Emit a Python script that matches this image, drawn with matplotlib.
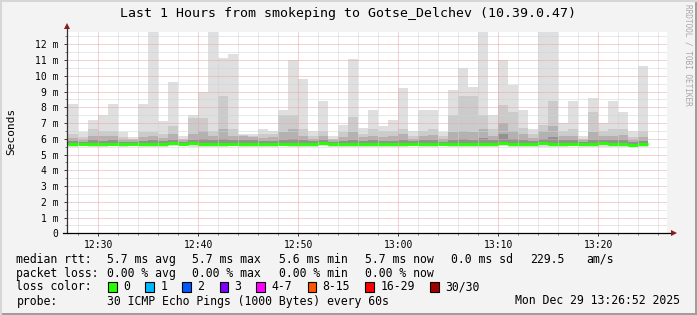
import matplotlib
matplotlib.use('Agg')
import matplotlib.pyplot as plt
from matplotlib.patches import Rectangle
from matplotlib.lines import Line2D
import numpy as np

W, H, DPI = 697, 315, 100

# ---------------- data ----------------
title = "Last 1 Hours from smokeping to Gotse_Delchev (10.39.0.47)"
first_bar_minute = 27          # 12:27, minutes after 12:00
n_bars = 58                    # one bar per minute (60 s step)
x_view = (26.867, 86.867)      # 12:26:52 .. 13:26:52
x_tick_pos = [30, 40, 50, 60, 70, 80]
x_tick_labels = ["12:30", "12:40", "12:50", "13:00", "13:10", "13:20"]
y_tick_pos = list(range(0, 13))
y_tick_labels = ["0"] + [f"{v} m" for v in range(1, 13)]
y_top = 12.78

# ping smoke (ms): outer band (min..max) and inner shaded bands
rtt_max = [8.2, 6.45, 7.2, 7.5, 8.2, 6.4, 6.1, 8.2, 14.0, 7.1,
           9.6, 6.2, 7.5, 9.0, 14.0, 11.1, 11.4, 6.3, 6.3, 6.6,
           6.5, 7.8, 11.0, 9.8, 6.5, 8.4, 6.2, 6.85, 11.05, 6.7,
           7.8, 6.8, 7.2, 9.25, 6.5, 7.8, 7.8, 6.4, 9.1, 10.5,
           9.3, 14.0, 7.5, 11.0, 9.4, 7.8, 6.6, 14.0, 14.0, 7.0,
           8.4, 6.2, 8.6, 7.0, 8.4, 7.7, 6.5, 10.6]
rtt_hi2 = [6.3, 6.1, 6.6, 6.5, 6.5, 6.1, 6.0, 6.4, 6.4, 6.3,
           6.8, 6.0, 7.3, 7.3, 6.5, 8.7, 6.6, 6.25, 6.2, 6.3,
           6.3, 7.5, 7.5, 6.6, 6.2, 6.5, 6.0, 6.4, 7.4, 6.3,
           6.6, 6.5, 6.5, 6.6, 6.2, 6.5, 6.6, 6.2, 7.5, 8.7,
           8.7, 7.5, 6.6, 8.15, 7.7, 6.7, 6.3, 6.9, 8.4, 6.5,
           6.6, 6.0, 7.7, 6.5, 6.6, 6.6, 6.1, 6.5]
rtt_hi3 = [6.05, 5.95, 6.2, 6.15, 6.2, 5.95, 5.9, 6.1, 6.15, 6.05,
           6.3, 5.9, 6.3, 6.5, 6.2, 6.6, 6.2, 6.15, 6.1, 6.05,
           6.1, 6.4, 6.6, 6.2, 6.0, 6.2, 5.9, 6.1, 6.4, 6.1,
           6.2, 6.1, 6.15, 6.3, 6.0, 6.2, 6.25, 6.0, 6.4, 6.5,
           6.4, 6.6, 6.2, 7.0, 6.5, 6.3, 6.05, 6.5, 6.8, 6.15,
           6.2, 5.9, 6.4, 6.2, 6.2, 6.25, 5.95, 6.1]
rtt_hi4 = [5.85, 5.8, 5.9, 5.88, 5.9, 5.8, 5.8, 5.85, 5.95, 5.85,
           5.95, 5.8, 5.95, 6.0, 5.9, 6.0, 5.9, 5.95, 5.95, 5.85,
           5.85, 5.95, 6.0, 5.9, 5.85, 5.9, 5.8, 5.85, 5.95, 5.85,
           5.9, 5.85, 5.88, 5.95, 5.85, 5.9, 5.9, 5.82, 5.95, 6.0,
           5.95, 6.05, 5.9, 6.3, 6.0, 5.95, 5.85, 6.0, 6.1, 5.9,
           5.9, 5.8, 5.95, 5.95, 5.9, 5.95, 5.8, 5.88]
rtt_median = [5.67, 5.66, 5.66, 5.68, 5.66, 5.66, 5.67, 5.68, 5.69, 5.68,
              5.74, 5.68, 5.74, 5.69, 5.68, 5.68, 5.67, 5.66, 5.67, 5.66,
              5.67, 5.67, 5.68, 5.67, 5.68, 5.74, 5.68, 5.67, 5.67, 5.66,
              5.67, 5.66, 5.67, 5.67, 5.67, 5.66, 5.67, 5.68, 5.67, 5.67,
              5.66, 5.68, 5.67, 5.74, 5.68, 5.66, 5.67, 5.74, 5.68, 5.67,
              5.67, 5.66, 5.67, 5.74, 5.67, 5.66, 5.62, 5.67]
rtt_low2 = [5.6, 5.61, 5.6, 5.59, 5.61, 5.6, 5.62, 5.6, 5.59, 5.6,
            5.62, 5.62, 5.6, 5.59, 5.6, 5.6, 5.61, 5.6, 5.6, 5.59,
            5.6, 5.61, 5.6, 5.6, 5.6, 5.62, 5.59, 5.6, 5.6, 5.6,
            5.6, 5.59, 5.6, 5.6, 5.61, 5.6, 5.6, 5.61, 5.58, 5.6,
            5.6, 5.59, 5.6, 5.62, 5.6, 5.6, 5.6, 5.6, 5.59, 5.6,
            5.61, 5.6, 5.6, 5.6, 5.59, 5.6, 5.57, 5.6]
rtt_min = [5.5, 5.52, 5.5, 5.48, 5.52, 5.5, 5.53, 5.5, 5.48, 5.5,
           5.52, 5.55, 5.5, 5.48, 5.5, 5.5, 5.52, 5.5, 5.5, 5.48,
           5.5, 5.52, 5.5, 5.5, 5.5, 5.52, 5.48, 5.5, 5.5, 5.5,
           5.5, 5.48, 5.5, 5.5, 5.52, 5.5, 5.5, 5.52, 5.45, 5.5,
           5.5, 5.48, 5.5, 5.52, 5.5, 5.5, 5.5, 5.5, 5.48, 5.5,
           5.52, 5.5, 5.5, 5.5, 5.48, 5.5, 5.45, 5.5]

legend_rtt = [("median rtt:", 16.4), ("5.7 ms avg", 107.1), ("5.7 ms max", 192.4),
              ("5.6 ms min", 279.1), ("5.7 ms now", 364.9), ("0.0 ms sd", 451.1),
              ("229.5", 530.2), ("am/s", 585.8)]
legend_loss = [("packet loss:", 16.4), ("0.00 % avg", 107.1), ("0.00 % max", 192.4),
               ("0.00 % min", 279.1), ("0.00 % now", 364.9)]
loss_labels = ["0", "1", "2", "3", "4-7", "8-15", "16-29", "30/30"]
loss_colors = ["#26ff00", "#00b8ff", "#0059ff", "#7e00ff", "#ff00ff", "#ff5500", "#ff0000", "#a10000"]
loss_box_x = [108.0, 145.3, 182.2, 219.6, 256.4, 307.6, 365.3, 430.2]
probe_text = "30 ICMP Echo Pings (1000 Bytes) every 60s"
stamp_text = "Mon Dec 29 13:26:52 2025"

# ---------------- figure ----------------
MONO = "DejaVu Sans Mono"
fig = plt.figure(figsize=(W / DPI, H / DPI), dpi=DPI, facecolor="#f3f3f3")

def fx(px):
    return px / W

def fy(py):
    return 1 - py / H

# frame shading
fig.add_artist(Rectangle((0, 0), 1, fy(H - 2), transform=fig.transFigure, color="#9e9e9e", lw=0))
fig.add_artist(Rectangle((fx(W - 2), 0), fx(2), 1, transform=fig.transFigure, color="#9e9e9e", lw=0))
fig.add_artist(Rectangle((0, fy(2)), 1, 1 - fy(2), transform=fig.transFigure, color="#d6d6d6", lw=0))
fig.add_artist(Rectangle((0, 0), fx(2), 1, transform=fig.transFigure, color="#d6d6d6", lw=0))

left, right, top, bottom = 67, 667, 32, 233.3
ax = fig.add_axes([fx(left), fy(bottom), fx(right - left), fy(top) - fy(bottom)])
ax.set_facecolor("white")

t = first_bar_minute + np.arange(n_bars)
mx = np.array(rtt_max); h2 = np.array(rtt_hi2); h3 = np.array(rtt_hi3)
h4 = np.array(rtt_hi4); med = np.array(rtt_median)
lo = np.array(rtt_min); lo2 = np.array(rtt_low2)

ax.bar(t, mx - lo, bottom=lo, width=1.0, align="edge", color="#dfdfdf", lw=0, zorder=1)
ax.bar(t, h2 - lo2, bottom=lo2, width=1.0, align="edge", color="#cbcbcb", lw=0, zorder=1.1)
ax.bar(t, h3 - lo2, bottom=lo2, width=1.0, align="edge", color="#b2b2b2", lw=0, zorder=1.2)
ax.bar(t, h4 - lo2, bottom=lo2, width=1.0, align="edge", color="#929292", lw=0, zorder=1.3)
ax.hlines(med, t, t + 1, colors="#26ff00", linewidth=2.2, zorder=1.5, capstyle="butt")

ax.set_xlim(*x_view)
ax.set_ylim(0, y_top)

# grid (1px dotted)
gkw = dict(lw=0.72, ls=(0, (1, 1)))
for v in np.arange(0.5, 12.6, 1.0):
    ax.axhline(v, color="#d2d2d2", zorder=2, **gkw)
for v in range(28, 87, 2):
    if v % 10:
        ax.axvline(v, color="#d2d2d2", zorder=2, **gkw)
for v in y_tick_pos[1:]:
    ax.axhline(v, color="#e6a6a6", zorder=2.1, **gkw)
for v in x_tick_pos:
    ax.axvline(v, color="#e6a6a6", zorder=2.1, **gkw)

ax.set_xticks(x_tick_pos)
ax.set_xticklabels(x_tick_labels, fontfamily=MONO, fontsize=7)
ax.set_xticks(range(28, 87, 2), minor=True)
ax.set_yticks(y_tick_pos)
ax.set_yticklabels(y_tick_labels, fontfamily=MONO, fontsize=7)
ax.set_yticks(np.arange(0.5, 12.6, 1.0), minor=True)
ax.tick_params(axis="both", which="major", direction="out", length=2.5, width=0.72,
               color="#404040", labelcolor="black")
ax.tick_params(axis="both", which="minor", direction="out", length=1.4, width=0.72, color="#808080")
ax.tick_params(axis="y", which="major", pad=3.5)
ax.tick_params(axis="x", which="major", pad=2.0)
for s in ax.spines.values():
    s.set_visible(False)

# axes lines with arrows
ax.add_line(Line2D([0, 0], [0, 1 + 5 / 201.3], transform=ax.transAxes, color="#303030",
                   lw=0.9, clip_on=False, zorder=3))
ax.add_line(Line2D([-4 / 600, 1 + 6 / 600], [0, 0], transform=ax.transAxes, color="black",
                   lw=0.9, clip_on=False, zorder=3))
ax.plot([0], [1 + 6 / 201.3], marker="^", color="#8b1a1a", markersize=4.5, transform=ax.transAxes,
        clip_on=False, zorder=4, mew=0)
ax.plot([1 + 7 / 600], [0], marker=">", color="#8b1a1a", markersize=4.5, transform=ax.transAxes,
        clip_on=False, zorder=4, mew=0)

# texts
fig.text(fx(348), fy(14), title, fontfamily=MONO, fontsize=9.5, ha="center", va="center")
fig.text(fx(11), fy(131), "Seconds", fontfamily=MONO, fontsize=8, rotation=90,
         ha="center", va="center")
fig.text(fx(688), fy(4), "RRDTOOL / TOBI OETIKER", fontfamily=MONO, fontsize=5.6,
         rotation=270, ha="center", va="top", color="#a8a8a8")

LFS = 8.3
for s, x in legend_rtt:
    fig.text(fx(x), fy(259.3), s, fontfamily=MONO, fontsize=LFS, ha="left", va="center")
for s, x in legend_loss:
    fig.text(fx(x), fy(273.3), s, fontfamily=MONO, fontsize=LFS, ha="left", va="center")
fig.text(fx(16.4), fy(287), "loss color:", fontfamily=MONO, fontsize=LFS, ha="left", va="center")
for lab, col, bx in zip(loss_labels, loss_colors, loss_box_x):
    fig.add_artist(Rectangle((fx(bx), fy(292)), fx(8.5), fy(282) - fy(292), transform=fig.transFigure,
                             facecolor=col, edgecolor="black", lw=0.8))
    fig.text(fx(bx + 15), fy(287), lab, fontfamily=MONO, fontsize=LFS, ha="left", va="center")
fig.text(fx(16.4), fy(301), "probe:", fontfamily=MONO, fontsize=LFS, ha="left", va="center")
fig.text(fx(107.1), fy(301), probe_text, fontfamily=MONO, fontsize=LFS, ha="left", va="center")
fig.text(fx(680), fy(301), stamp_text, fontfamily=MONO, fontsize=LFS, ha="right", va="center")

fig.savefig("out.png", dpi=DPI, facecolor=fig.get_facecolor())
